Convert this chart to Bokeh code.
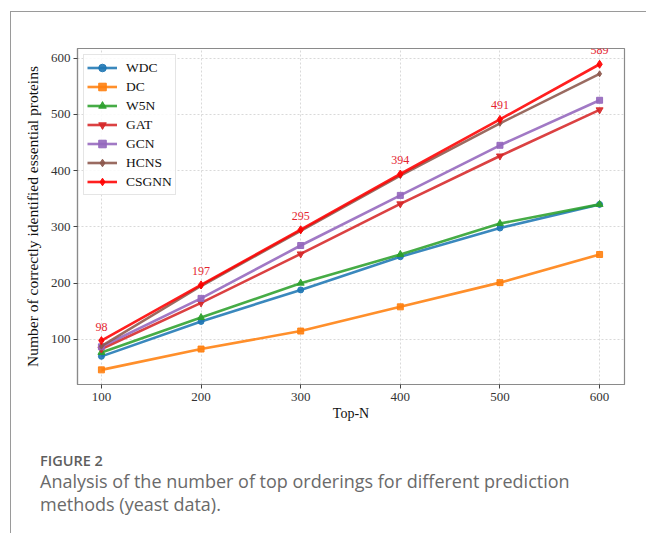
from bokeh.plotting import figure
from bokeh.models import (Legend, LegendItem, LabelSet, ColumnDataSource,
                          Range1d, FixedTicker, Div)
from bokeh.layouts import column
from bokeh.embed import file_html
from bokeh.resources import INLINE
from bokeh.core.properties import value

# ---- data ----
top_n = [100, 200, 300, 400, 500, 600]
wdc = [70, 132, 188, 247, 298, 340]
dc = [46, 83, 115, 158, 201, 251]
w5n = [77, 139, 200, 251, 306, 340]
gat = [83, 165, 252, 341, 426, 508]
gcn = [87, 173, 267, 356, 445, 525]
hcns = [88, 195, 293, 391, 484, 572]
csgnn = [98, 197, 295, 394, 491, 589]

method_names = ["WDC", "DC", "W5N", "GAT", "GCN", "HCNS", "CSGNN"]
method_values = [wdc, dc, w5n, gat, gcn, hcns, csgnn]
method_colors = ["#1f77b4", "#ff7f0e", "#2ca02c", "#d62728", "#9467bd", "#8c564b", "#ff0000"]
method_markers = ["circle", "square", "triangle", "inverted_triangle", "square", "diamond", "diamond"]
method_sizes = [6, 6, 7, 7, 6, 6, 8]

x_ticks = [100, 200, 300, 400, 500, 600]
y_ticks = [100, 200, 300, 400, 500, 600]
x_label = "Top-N"
y_label = "Number of correctly identified essential proteins"
caption_head = "FIGURE 2"
caption_lines = ["Analysis of the number of top orderings for different prediction",
                 "methods (yeast data)."]

SERIF = "Liberation Serif"
SANS = "Open Sans"

p = figure(width=635, height=428, output_backend="svg", toolbar_location=None,
           x_range=Range1d(76, 625), y_range=Range1d(20, 617),
           min_border_left=66, min_border_right=22, min_border_top=36, min_border_bottom=56,
           background_fill_color="white", border_fill_color="white")

p.outline_line_color = "#8a8a8a"
p.outline_line_width = 1.2

for ax in (p.xaxis[0], p.yaxis[0]):
    ax.axis_line_color = "#8a8a8a"
    ax.axis_line_width = 1.2
    ax.major_tick_line_color = "#444444"
    ax.major_tick_out = 4
    ax.major_tick_in = 0
    ax.minor_tick_line_color = None
    ax.major_label_text_font = SERIF
    ax.major_label_text_font_size = "13px"
    ax.major_label_text_color = "#333333"
    ax.axis_label_text_font = SERIF
    ax.axis_label_text_font_style = "normal"
    ax.axis_label_text_color = "#111111"

p.xaxis.axis_label_text_font_size = "14px"
p.yaxis.axis_label_text_font_size = "15.5px"
p.xaxis.ticker = FixedTicker(ticks=x_ticks)
p.yaxis.ticker = FixedTicker(ticks=y_ticks)
p.xaxis.axis_label = x_label
p.yaxis.axis_label = y_label
p.xaxis.major_label_standoff = 4
p.xaxis.axis_label_standoff = 2
p.yaxis.major_label_standoff = 3
p.yaxis.axis_label_standoff = 7

for g in (p.xgrid[0], p.ygrid[0]):
    g.grid_line_color = "#d9d9d9"
    g.grid_line_dash = "2 2"
    g.grid_line_width = 1

items = []
for name, vals, col, mk, sz in zip(method_names, method_values, method_colors,
                                   method_markers, method_sizes):
    src = ColumnDataSource(dict(x=top_n, y=vals))
    r1 = p.line("x", "y", source=src, line_color=col, line_width=2.6, line_alpha=0.88)
    r2 = p.scatter("x", "y", source=src, marker=mk, size=sz, fill_color=col,
                   line_color=col, fill_alpha=0.9, line_alpha=0.9)
    items.append(LegendItem(label=name, renderers=[r1, r2]))

legend = Legend(items=items, location="top_left", margin=6, padding=3,
                spacing=0, label_height=19, glyph_height=19, glyph_width=30,
                label_standoff=9, label_text_font=SERIF, label_text_font_size="13.5px",
                label_text_color="#111111", border_line_color="#cccccc",
                border_line_width=1, background_fill_color="white",
                background_fill_alpha=0.85)
p.add_layout(legend, "center")

lab_src = ColumnDataSource(dict(x=top_n, y=csgnn, t=[str(v) for v in csgnn]))
p.add_layout(LabelSet(x="x", y="y", text="t", source=lab_src, y_offset=14,
                      x_units="data", y_units="data",
                      text_align="center", text_baseline="middle",
                      text_font=value(SERIF), text_font_size="12px",
                      text_color="#e4252f"))

# caption below the chart
caption_html = (
    "<div style=\"margin-left:24px;font-family:'Open Sans',sans-serif;\">"
    "<div style='font-size:14.5px;font-weight:600;line-height:18px;height:18px;"
    "margin-top:7px;color:#5e5e5e;white-space:nowrap;'>" + caption_head + "</div>"
    "<div style='font-size:18px;line-height:23px;margin-top:0px;color:#6a6a6a;"
    "white-space:nowrap;'>" + "<br>".join(caption_lines) + "</div></div>"
)
cap = Div(text=caption_html, width=635, height=93)

layout = column(p, cap, spacing=0,
                styles={"margin-left": "10px", "margin-top": "11px",
                        "border-top": "1px solid #9a9a9a",
                        "border-left": "1px solid #9a9a9a"})

open("out.html", "w").write(file_html(layout, INLINE))
